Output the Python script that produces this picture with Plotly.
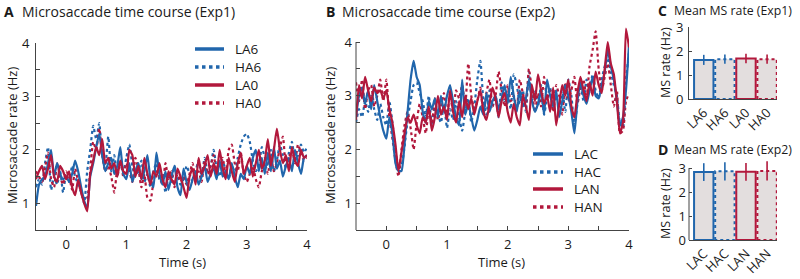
import numpy as np
import plotly.graph_objects as go

BLUE = "#2166ac"
RED = "#b2183c"
FILL = "#e3dede"
AXC = "#444444"
TXT = "#1a1a1a"
FONT = "Open Sans"
FS = 13

# ---------------- Exp1 time courses (t from -0.5 to 4 s, 0.05 s steps) ----------------
LA6 = [0.95, 1.35, 1.45, 1.5, 1.75, 2.0, 1.5, 1.75, 1.55, 1.45,
       1.5, 1.4, 1.55, 1.8, 1.6, 1.3, 1.05, 0.9, 1.5, 1.75,
       2.05, 2.3, 1.9, 1.6, 1.75, 1.85, 1.55, 1.7, 2.05, 1.55,
       1.45, 1.75, 1.4, 1.6, 1.75, 1.45, 1.6, 1.9, 1.45, 1.3,
       1.95, 1.55, 1.35, 1.6, 1.25, 1.5, 1.7, 1.3, 1.15, 1.65,
       1.4, 1.25, 1.45, 1.6, 1.35, 1.5, 1.7, 1.4, 1.55, 1.65,
       1.45, 1.8, 1.5, 1.6, 1.45, 1.75, 1.5, 1.3, 1.55, 1.45,
       1.7, 1.55, 1.85, 2.0, 1.6, 1.85, 1.55, 1.95, 1.6, 2.05,
       1.65, 1.8, 1.5, 1.7, 1.85, 1.6, 2.0, 1.75, 1.55, 1.85,
       1.9]
HA6 = [1.3, 1.45, 1.35, 1.75, 2.05, 1.25, 1.5, 1.35, 1.6, 1.2,
       1.55, 1.4, 1.7, 1.5, 1.35, 1.2, 1.0, 1.6, 2.0, 2.45,
       2.2, 2.5, 1.9, 1.7, 2.25, 1.6, 1.9, 1.5, 1.75, 1.6,
       1.85, 2.1, 1.7, 1.5, 1.6, 1.8, 1.4, 1.55, 1.3, 1.6,
       1.75, 1.45, 1.55, 1.2, 1.55, 1.4, 1.7, 1.5, 1.35, 1.45,
       1.7, 1.55, 1.4, 1.6, 1.8, 1.5, 1.85, 1.6, 1.7, 2.0,
       1.65, 1.5, 1.8, 1.6, 1.45, 1.7, 1.6, 1.85, 2.1, 2.25,
       2.3, 2.15, 1.8, 1.6, 1.7, 2.05, 1.85, 1.7, 2.0, 1.6,
       1.8, 2.1, 1.9, 1.65, 1.95, 2.15, 1.8, 1.9, 2.1, 1.95,
       2.05]
LA0 = [1.45, 1.6, 1.7, 1.45, 1.65, 1.9, 1.5, 1.4, 1.7, 1.6,
       1.45, 1.6, 1.3, 1.15, 1.45, 1.2, 1.0, 0.85, 1.55, 1.8,
       2.05, 1.9, 2.2, 1.75, 1.85, 1.65, 1.75, 1.5, 1.8, 1.6,
       1.55, 2.0, 1.9, 1.5, 1.7, 1.45, 1.85, 1.55, 1.35, 1.6,
       1.5, 1.75, 1.45, 1.3, 1.6, 1.45, 1.35, 1.65, 1.5, 1.3,
       1.1, 1.5, 1.65, 1.35, 1.85, 1.55, 1.7, 1.9, 1.5, 1.75,
       1.55, 2.0, 1.65, 1.45, 1.85, 1.6, 1.4, 1.75, 1.95, 1.55,
       1.7, 1.85, 1.5, 1.75, 2.0, 1.65, 1.8, 2.2, 1.7, 2.0,
       2.4, 2.0, 1.75, 1.9, 1.6, 2.05, 1.8, 1.7, 2.0, 1.85,
       1.9]
HA0 = [1.6, 1.5, 1.4, 1.65, 1.95, 1.45, 1.3, 1.75, 1.5, 1.35,
       1.6, 1.5, 1.25, 1.65, 1.4, 1.2, 1.05, 1.1, 1.6, 2.15,
       2.0, 2.4, 1.9, 1.6, 1.7, 1.5, 1.2, 1.65, 1.8, 1.5,
       1.75, 1.6, 1.4, 1.85, 1.65, 1.3, 1.55, 1.1, 1.05, 1.4,
       1.6, 1.5, 1.35, 1.75, 1.45, 1.6, 1.3, 1.55, 1.4, 1.5,
       1.35, 1.55, 1.75, 1.45, 1.6, 1.4, 1.8, 1.55, 1.7, 1.9,
       1.6, 1.75, 1.85, 1.5, 2.0, 2.1, 1.75, 1.6, 1.95, 1.55,
       1.4, 1.55, 1.7, 1.45, 1.3, 1.6, 1.75, 1.55, 1.9, 1.6,
       1.75, 2.05, 2.25, 1.7, 1.85, 2.0, 1.75, 2.1, 1.95, 1.8,
       1.85]

# ---------------- Exp2 time courses ----------------
LAC = [2.6, 3.0, 3.15, 2.85, 3.1, 2.75, 3.2, 2.9, 2.6, 2.35,
       2.2, 2.6, 2.3, 1.75, 1.6, 1.6, 2.1, 2.7, 3.3, 3.65,
       3.35, 3.2, 2.7, 2.5, 2.9, 2.75, 2.95, 2.6, 3.0, 2.7,
       3.0, 3.2, 2.9, 2.6, 2.45, 3.3, 2.65, 2.85, 2.6, 2.35,
       2.55, 2.8, 2.65, 3.05, 2.7, 2.9, 3.0, 2.75, 2.95, 3.2,
       2.85, 3.35, 3.0, 2.7, 3.1, 2.8, 2.95, 3.3, 2.9, 2.7,
       2.85, 3.1, 2.65, 3.3, 3.0, 2.8, 3.1, 2.6, 2.9, 3.2,
       3.0, 2.7, 2.3, 2.9, 3.25, 3.0, 2.85, 3.1, 3.35, 3.0,
       2.95, 3.2, 3.45, 3.85, 3.55, 3.3, 2.9, 2.45, 2.6, 3.1,
       3.95]
HAC = [2.5, 2.75, 2.6, 2.9, 2.7, 3.0, 2.75, 2.55, 2.85, 2.6,
       2.45, 2.9, 2.5, 2.0, 1.65, 1.7, 2.05, 2.55, 2.9, 3.2,
       3.25, 3.05, 2.9, 2.6, 3.0, 2.45, 2.8, 2.65, 2.5, 2.85,
       2.4, 2.75, 2.55, 2.9, 2.6, 2.35, 2.7, 2.95, 2.5, 2.8,
       3.3, 3.65, 2.9, 2.65, 3.1, 2.8, 3.0, 2.6, 3.25, 2.9,
       3.05, 2.75, 3.4, 3.2, 2.85, 3.1, 2.7, 3.45, 2.9, 3.1,
       2.8, 3.2, 2.65, 2.95, 3.15, 2.75, 3.0, 2.8, 3.1, 2.7,
       3.3, 3.0, 2.45, 2.85, 3.2, 2.9, 3.3, 3.05, 3.4, 3.1,
       2.95, 3.3, 3.55, 3.7, 3.45, 3.2, 3.0, 2.5, 2.4, 3.3,
       3.8]
LAN = [2.55, 3.2, 2.95, 3.35, 3.1, 2.9, 3.15, 3.05, 3.1, 2.95,
       3.1, 2.75, 2.5, 2.1, 1.6, 1.95, 2.3, 2.6, 2.5, 2.65,
       2.45, 2.3, 2.6, 2.5, 2.8, 2.35, 2.6, 3.0, 2.65, 2.8,
       2.55, 3.1, 2.7, 2.5, 2.9, 2.6, 3.0, 2.75, 2.95, 2.65,
       2.9, 3.1, 2.7, 2.55, 2.85, 3.15, 2.95, 2.6, 2.9, 3.05,
       2.7, 2.5, 2.85, 2.6, 2.45, 3.0, 2.8, 2.55, 3.2, 2.9,
       3.4, 3.1, 2.85, 3.0, 2.7, 3.15, 2.45, 2.85, 3.2, 3.0,
       3.3, 2.8, 2.6, 3.05, 3.35, 3.1, 2.9, 3.25, 3.0, 3.45,
       3.2, 3.05, 3.5, 4.0, 3.6, 3.4, 2.9, 2.3, 2.5, 4.25,
       3.9]
HAN = [3.25, 2.9, 3.3, 2.75, 3.1, 3.2, 2.8, 3.0, 3.3, 2.9,
       3.3, 2.6, 2.2, 1.8, 1.5, 2.0, 2.45, 2.7, 2.4, 2.0,
       2.5, 2.85, 2.6, 2.3, 2.75, 2.5, 2.95, 2.55, 2.8, 3.05,
       2.6, 3.05, 2.7, 3.1, 2.95, 3.2, 2.8, 3.6, 3.0, 2.75,
       2.9, 3.15, 2.65, 3.05, 3.3, 2.8, 3.0, 3.45, 3.1, 2.8,
       3.2, 2.9, 3.0, 2.75, 3.3, 3.05, 2.85, 3.5, 3.1, 2.7,
       3.05, 2.8, 3.35, 2.95, 3.1, 2.7, 3.2, 3.0, 2.65, 3.25,
       2.9, 3.1, 3.35, 2.85, 3.15, 3.3, 2.95, 3.55, 3.85, 4.2,
       3.5, 3.1, 3.35, 3.6, 3.2, 2.8, 3.1, 2.3, 2.35, 2.9,
       3.05]

T_START, T_END = -0.5, 4.0

# ---------------- Mean rates ----------------
EXP1_COND = ["LA6", "HA6", "LA0", "HA0"]
EXP1_MEAN = [1.63, 1.66, 1.69, 1.66]
EXP1_ERR = [0.21, 0.19, 0.2, 0.19]
EXP2_COND = ["LAC", "HAC", "LAN", "HAN"]
EXP2_MEAN = [2.83, 2.86, 2.84, 2.88]
EXP2_ERR = [0.37, 0.38, 0.37, 0.4]

COND_COLOR = [BLUE, BLUE, RED, RED]
COND_DASH = ["solid", "dot", "solid", "dot"]

W, H = 800, 279


def px(xpix):
    return xpix / W


def py(ypix):
    return 1 - ypix / H


fig = go.Figure()

panels = [
    ("x", "y", [("LA6", LA6), ("HA6", HA6), ("LA0", LA0), ("HA0", HA0)]),
    ("x2", "y2", [("LAC", LAC), ("HAC", HAC), ("LAN", LAN), ("HAN", HAN)]),
]
draw_order = [1, 3, 0, 2]
for xa, ya, series in panels:
    for k in draw_order:
        name, vals = series[k]
        t = np.linspace(T_START, T_END, len(vals))
        fig.add_trace(go.Scatter(
            x=t, y=vals, mode="lines", name=name, xaxis=xa, yaxis=ya,
            showlegend=False,
            line=dict(color=COND_COLOR[k], width=2.2, dash=COND_DASH[k],
                      shape="spline", smoothing=0.5),
            hoverinfo="skip"))

bar_panels = [("x3", "y3", EXP1_COND, EXP1_MEAN, EXP1_ERR),
              ("x4", "y4", EXP2_COND, EXP2_MEAN, EXP2_ERR)]
BW = 0.92
for xa, ya, conds, means, errs in bar_panels:
    for i, (c, m, e) in enumerate(zip(conds, means, errs)):
        fig.add_trace(go.Bar(
            x=[i], y=[m], width=BW, xaxis=xa, yaxis=ya, showlegend=False,
            marker=dict(color=FILL, line=dict(width=0)),
            error_y=dict(type="data", array=[e], color=COND_COLOR[i],
                         thickness=1.6, width=0),
            hoverinfo="skip"))
        fig.add_trace(go.Scatter(
            x=[i - BW / 2, i - BW / 2, i + BW / 2, i + BW / 2, i - BW / 2],
            y=[0, m, m, 0, 0], mode="lines", xaxis=xa, yaxis=ya,
            showlegend=False, hoverinfo="skip",
            line=dict(color=COND_COLOR[i], width=2, dash=COND_DASH[i])))

tick_font = dict(family=FONT, size=FS, color=TXT)
common = dict(showgrid=False, zeroline=False, automargin=False,
              tickfont=tick_font, linecolor=AXC, linewidth=1, tickcolor=AXC)


def tc_xaxis(domain, anchor):
    vals = [v / 2 for v in range(-1, 9)]
    return dict(domain=domain, anchor=anchor, range=[-0.5, 4],
                tickvals=vals,
                ticktext=[str(int(v)) if v == int(v) else "" for v in vals],
                ticks="inside", ticklen=4, showline=True,
                ticklabelstandoff=2, **common)


def tc_yaxis(domain, anchor, rng, showline=True):
    vals = [v / 2 for v in range(1, 9)]
    return dict(domain=domain, anchor=anchor, range=rng,
                tickvals=vals,
                ticktext=[str(int(v)) if v == int(v) else "" for v in vals],
                ticks="inside", ticklen=4, showline=showline,
                ticklabelstandoff=3, **common)


def bar_xaxis(domain, anchor, conds):
    return dict(domain=domain, anchor=anchor, range=[-0.70, 3.47],
                tickvals=list(range(len(conds))), ticktext=conds,
                tickangle=-45, ticks="", showline=True, **common)


def bar_yaxis(domain, anchor, rng, showline=True):
    return dict(domain=domain, anchor=anchor, range=rng,
                tickvals=[0, 1, 2, 3], ticks="inside", ticklen=3,
                showline=showline, ticklabelstandoff=2, **common)


shapes = [
    dict(type="line", xref="x2 domain", yref="y2", x0=0, x1=0, y0=0.5, y1=4,
         line=dict(color=AXC, width=1)),
    dict(type="line", xref="x4 domain", yref="y4", x0=0, x1=0, y0=0, y1=3,
         line=dict(color=AXC, width=1)),
]
ann = []


def label(x, y, text, bold=False, size=FS + 1, anchor="left", angle=0):
    ann.append(dict(x=x, y=y, xref="paper", yref="paper", text=text,
                    showarrow=False, xanchor=anchor, yanchor="middle",
                    textangle=angle, borderpad=0,
                    font=dict(family=FONT, size=size, color=TXT,
                              weight="bold" if bold else "normal")))


# legend keys (line sample + label), placed in pixel positions of the figure
LEGENDS = [
    ([s[0] for s in panels[0][2]], 195, 224, 234, [49, 67, 85, 103]),
    ([s[0] for s in panels[1][2]], 533, 563, 573, [154, 172, 189, 207]),
]
for names, lx0, lx1, tx, ys in LEGENDS:
    for k, (nm, yy) in enumerate(zip(names, ys)):
        shapes.append(dict(type="line", xref="paper", yref="paper",
                           x0=px(lx0), x1=px(lx1), y0=py(yy), y1=py(yy),
                           line=dict(color=COND_COLOR[k], width=3.5,
                                     dash=COND_DASH[k])))
        label(px(tx), py(yy), nm, size=FS + 0.5)

YB_TOP = 0.5 + (230 - 26) / 53.7
fig.update_layout(
    width=W, height=H, margin=dict(l=0, r=0, t=0, b=0, autoexpand=False),
    paper_bgcolor="white", plot_bgcolor="white", showlegend=False,
    font=dict(family=FONT, size=FS, color=TXT),
    xaxis=tc_xaxis([px(36), px(307)], "y"),
    yaxis=tc_yaxis([py(230), py(43)], "x", [0.5, 4]),
    xaxis2=tc_xaxis([px(356), px(629)], "y2"),
    yaxis2=tc_yaxis([py(230), py(26)], "x2", [0.5, YB_TOP], showline=False),
    xaxis3=bar_xaxis([px(689), px(777)], "y3", EXP1_COND),
    yaxis3=bar_yaxis([py(99), py(27)], "x3", [0, 3]),
    xaxis4=bar_xaxis([px(689), px(777)], "y4", EXP2_COND),
    yaxis4=bar_yaxis([py(240), py(156)], "x4", [0, 3.5], showline=False),
)

label(px(3), py(12), "A", bold=True)
label(px(21), py(12), "Microsaccade time course (Exp1)")
label(px(325), py(12), "B", bold=True)
label(px(341), py(12), "Microsaccade time course (Exp2)")
label(px(657), py(10), "C", bold=True)
label(px(673), py(10), "Mean MS rate (Exp1)", size=12.3)
label(px(657), py(149), "D", bold=True)
label(px(673), py(149), "Mean MS rate (Exp2)", size=12.3)
label(px(12), py(136), "Microsaccade rate (Hz)", size=FS, anchor="center", angle=-90)
label(px(330), py(136), "Microsaccade rate (Hz)", size=FS, anchor="center", angle=-90)
label(px(182), py(262), "Time (s)", size=FS, anchor="center")
label(px(502), py(262), "Time (s)", size=FS, anchor="center")
label(px(665), py(63), "MS rate (Hz)", size=12.5, anchor="center", angle=-90)
label(px(665), py(204), "MS rate (Hz)", size=12.5, anchor="center", angle=-90)
fig.update_layout(annotations=ann, shapes=shapes)

fig.write_html("out.html", config={"displayModeBar": False},
               post_script="document.body.style.margin='0';document.body.style.padding='0';")
